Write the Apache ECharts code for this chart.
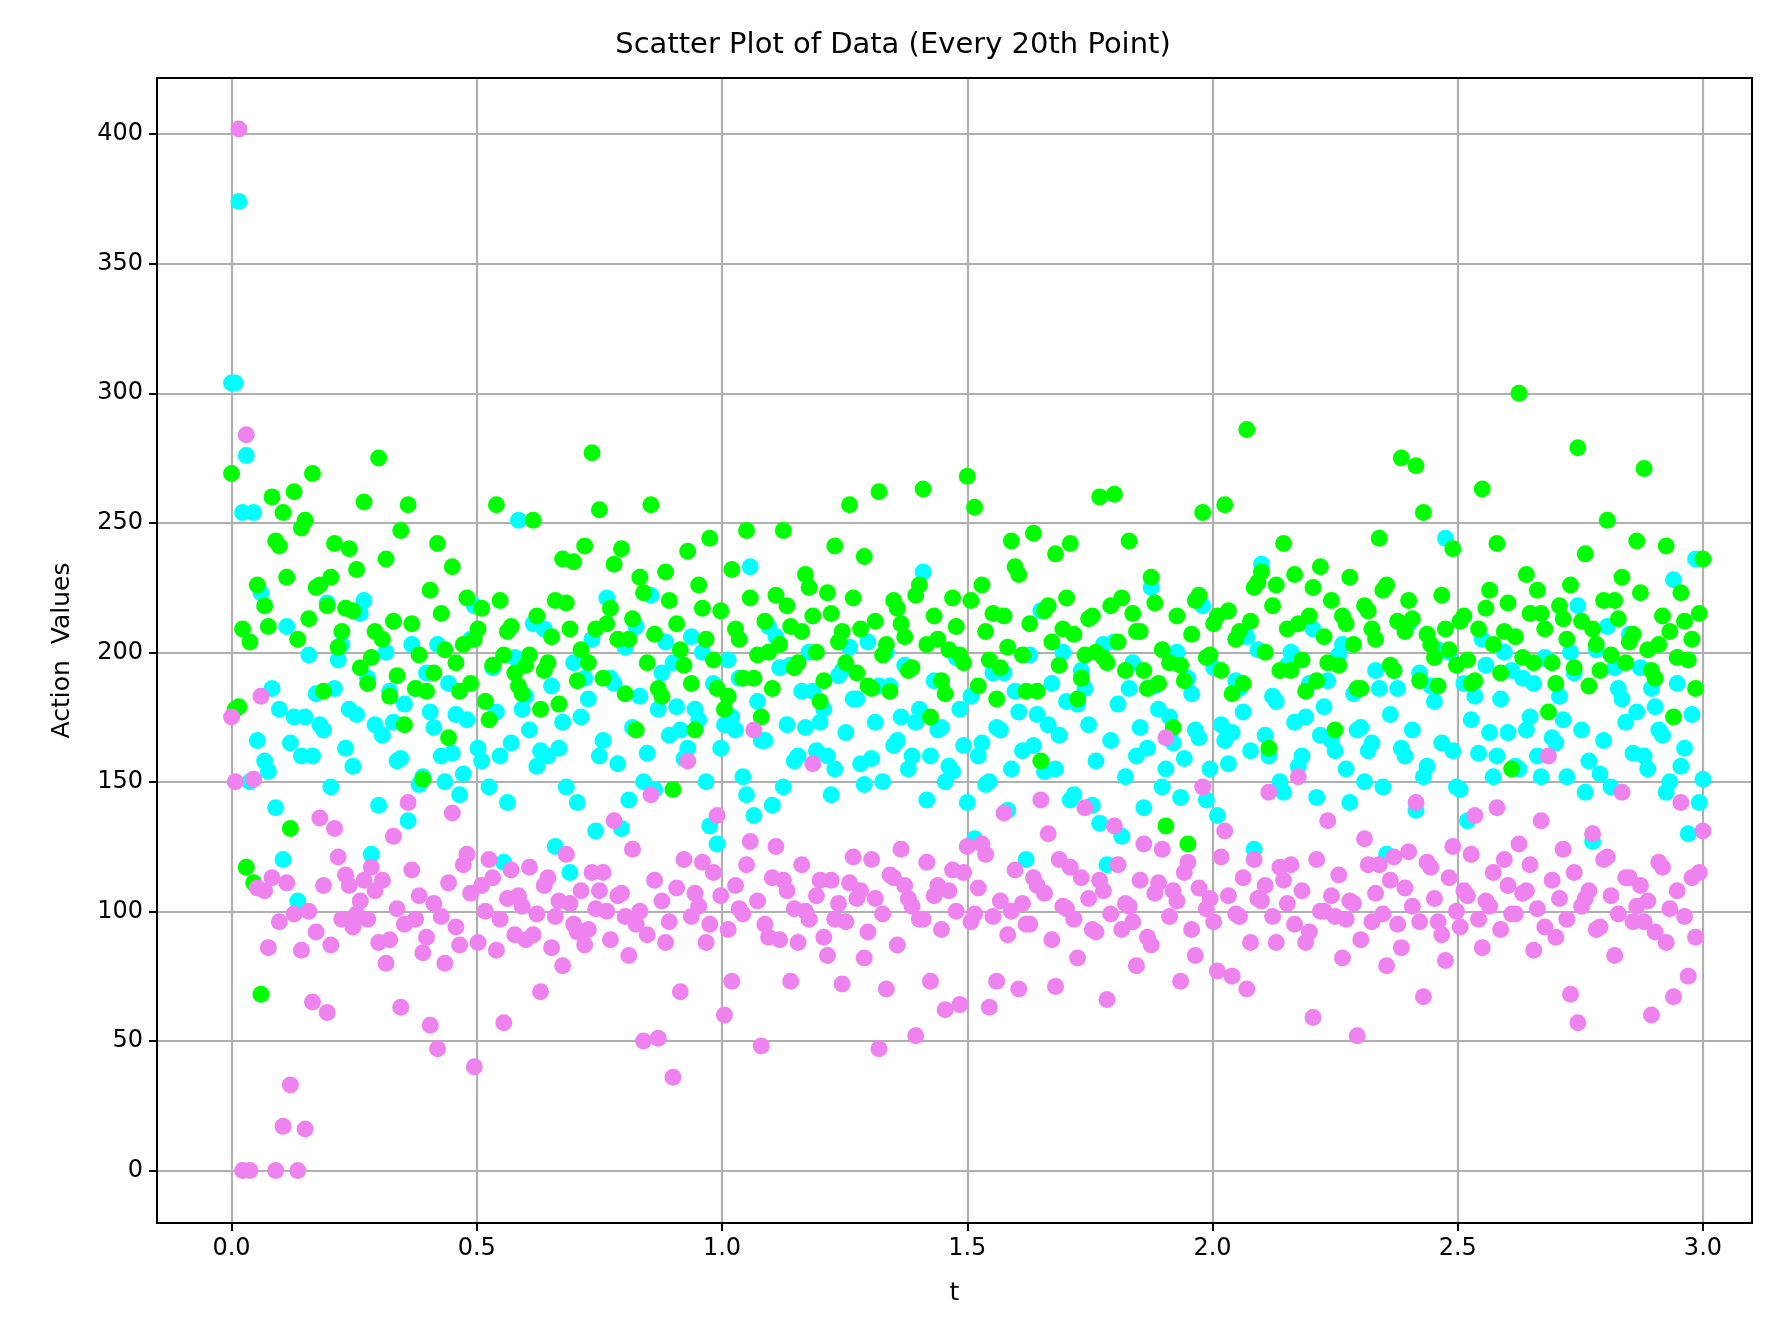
<!DOCTYPE html><html><head><meta charset="utf-8">
<script src="https://cdn.jsdelivr.net/npm/echarts@6/dist/echarts.min.js"></script>
<style>html,body{margin:0;background:#fff}#c{width:1786px;height:1324px}</style></head><body><div id="c"></div>
<script>
const tStep = 0.015;
const xTicks = [0,0.5,1,1.5,2,2.5,3];
const yTicks = [0,50,100,150,200,250,300,350,400];
const cyanVals = [304,374,276,254,223,154,140,120,165,104,175,160,172,219,186,203,178,176,220,122,
141,200,173,159,135,186,152,177,203,150,161,145,174,218,158,148,177,119,165,251,
183,211,162,160,125,173,115,142,190,205,160,221,188,132,143,210,150,222,178,204,
196,170,163,178,200,133,126,172,175,190,145,137,166,210,206,148,195,160,171,185,
173,160,155,193,202,182,149,159,187,200,164,175,155,173,231,160,170,150,154,178,
142,128,165,150,171,192,155,177,120,164,216,172,155,200,143,180,186,141,134,118,
204,129,186,160,140,225,178,155,165,144,190,170,218,155,137,166,169,186,206,124,
234,160,181,146,200,156,175,209,168,189,162,203,142,170,150,165,186,122,193,163,
211,139,152,187,201,244,162,147,135,183,205,169,160,200,193,155,170,188,152,197,
165,174,200,218,146,127,153,210,194,182,207,177,160,186,170,146,228,156,130,236,151];
const cyanVals2 = [304,254,150,166,158,186,178,210,175,160,199,184,170,148,197,163,156,215,190,172,
168,185,158,180,203,149,192,171,160,188,176,153,205,163,181,194,160,142,198,178,
170,156,209,187,163,148,196,175,182,131,166,190,157,202,171,183,161,147,192,168,
179,159,206,174,150,188,163,197,170,152,233,181,166,141,194,172,158,185,200,162,
178,145,191,169,182,157,204,173,150,187,166,195,160,178,143,189,171,156,198,164,
183,160,149,192,170,139,185,162,199,176,154,188,168,181,145,193,172,158,203,166,
180,152,196,171,163,187,148,175,200,159,184,167,143,194,172,157,189,177,162,201,
168,183,150,195,173,160,188,144,179,166,199,155,184,171,162,193,148,176,186,160,
170,192,156,181,165,200,148,188,174,161,195,152,182,169,156,190,175,160,198,167,
183,152,192,170,158,201,166,148,186,173,161,194,155,179,168,150,188,163,176,142];
const greenVals = [269,179,117,111,68,210,243,254,132,205,251,269,226,218,242,208,240,232,258,198,
275,236,212,247,257,186,151,224,242,201,233,185,221,205,217,174,257,199,210,187,
195,251,178,196,220,236,209,189,241,277,255,211,234,240,205,170,223,257,186,231,
147,201,239,170,217,244,186,178,232,205,247,190,175,200,222,247,210,196,230,214,
181,223,241,208,257,192,237,186,262,203,220,211,193,222,263,175,205,184,221,199,
268,256,226,197,182,214,243,230,185,246,158,218,238,209,242,182,199,214,260,196,
261,221,243,208,193,229,188,133,171,195,126,220,254,199,214,257,184,208,286,225,
231,163,226,242,193,211,185,225,233,196,170,214,229,186,218,209,244,226,193,275,
220,272,254,203,187,209,240,212,197,189,263,224,242,208,155,300,230,196,215,177,
188,213,226,279,238,209,193,251,220,229,204,243,271,193,203,241,175,223,197,186,236];
const greenVals2 = [178,209,204,226,218,260,241,229,262,248,213,225,185,229,202,217,216,194,188,208,
205,183,191,172,211,199,185,192,215,167,196,203,188,209,181,195,220,208,192,184,
199,214,193,206,180,219,235,201,196,209,190,217,205,184,213,229,196,207,183,220,
211,195,188,226,205,197,216,183,209,190,221,199,212,186,203,218,194,208,225,200,
189,215,204,196,221,209,187,212,199,185,217,206,194,226,203,214,189,201,210,196,
220,187,208,215,194,202,233,199,211,185,216,204,195,221,207,190,213,200,198,218,
204,193,215,208,186,219,201,196,214,189,207,222,198,211,193,216,205,188,212,227,
200,218,193,209,230,197,214,189,206,220,195,211,203,186,216,205,224,195,212,208,
213,189,207,198,222,201,195,214,188,209,217,203,192,219,206,198,215,224,209,196,
218,205,194,212,187,203,220,199,213,196,207,223,201,190,214,208,198,212,205,215];
const violetVals = [175,402,284,151,183,86,0,17,33,0,16,65,136,61,132,97,110,99,112,117,
88,80,129,63,142,97,84,56,47,80,138,87,122,40,110,120,85,57,116,106,
89,91,69,113,98,79,103,92,87,115,108,100,135,107,83,95,50,145,51,88,
36,69,158,107,119,95,137,60,73,101,118,170,48,90,125,112,73,88,100,157,
112,83,97,72,111,105,82,120,47,70,113,124,105,52,97,73,110,62,116,64,
125,99,126,63,73,138,100,70,95,113,143,130,71,102,117,82,140,93,112,66,
133,93,102,79,126,87,111,167,108,73,119,83,148,105,77,131,75,98,70,120,
104,146,88,112,118,152,88,59,100,135,98,82,104,52,128,96,118,79,121,86,
123,142,67,117,96,81,125,94,106,137,86,102,140,120,99,126,108,85,135,160,
90,124,68,57,105,130,94,121,83,146,113,102,96,60,119,88,67,142,75,90,131];
const violetVals2 = [150,0,0,109,108,113,96,111,99,85,100,92,110,87,121,114,94,104,97,108,
112,89,101,95,116,106,90,103,98,111,94,118,107,88,100,113,97,105,91,102,
117,99,110,86,104,122,95,108,93,101,115,89,106,98,124,100,91,112,104,96,
109,120,98,102,88,115,106,93,110,99,127,104,95,113,89,108,101,118,97,106,
90,112,103,96,121,108,92,105,99,114,87,110,102,97,119,106,93,108,100,115,
96,109,122,98,104,91,116,103,95,110,107,89,120,101,97,113,105,92,108,99,
118,103,96,112,90,107,124,98,104,115,93,109,101,96,121,106,99,113,88,105,
110,98,117,103,95,108,92,120,100,106,114,97,103,89,118,107,99,112,95,109,
102,96,119,105,91,113,100,108,122,97,104,115,93,110,99,107,118,101,94,112,
105,97,115,102,108,93,120,106,99,113,96,110,104,92,117,101,108,98,113,115];
const pts = (a, off) => a.map((v,i)=>[(i+off)*tStep, v]);
const ser = (name,vals,off,color)=>({name,type:'scatter',data:pts(vals,off),symbolSize:17,itemStyle:{color,opacity:1},silent:true});
const font = 'DejaVu Sans';
const chart = echarts.init(document.getElementById('c'));
chart.setOption({
  animation:false,
  textStyle:{fontFamily:font},
  title:{text:'Scatter Plot of Data (Every 20th Point)',left:'center',top:26,textStyle:{fontSize:29,fontWeight:'normal',color:'#000',fontFamily:font}},
  grid:{left:157,right:34,top:78,bottom:101},
  xAxis:{type:'value',min:-0.152,max:3.1,name:'t',nameLocation:'middle',nameGap:58,nameTextStyle:{fontSize:25,color:'#000'},
    axisLine:{onZero:false,lineStyle:{color:'#000',width:2}},
    axisTick:{customValues:xTicks,length:8,lineStyle:{color:'#000',width:2}},
    axisLabel:{customValues:xTicks,formatter:v=>v.toFixed(1),fontSize:24,color:'#000',margin:14},
    splitLine:{show:true,lineStyle:{color:'#b0b0b0',width:2.2}}},
  yAxis:{type:'value',min:-20.3,max:421.7,name:'Action  Values',nameLocation:'middle',nameGap:82,nameTextStyle:{fontSize:25,color:'#000'},
    axisLine:{onZero:false,lineStyle:{color:'#000',width:2}},
    axisTick:{customValues:yTicks,length:8,lineStyle:{color:'#000',width:2}},
    axisLabel:{customValues:yTicks,fontSize:24,color:'#000',margin:14},
    splitLine:{show:true,lineStyle:{color:'#b0b0b0',width:2.2}}},
  series:[ser('cyan',cyanVals,0,'#00ffff'),ser('cyan2',cyanVals2,0.5,'#00ffff'),
          ser('green',greenVals,0,'#00ff00'),ser('green2',greenVals2,0.5,'#00ff00'),
          ser('violet',violetVals,0,'#ee82ee'),ser('violet2',violetVals2,0.5,'#ee82ee')]
});
chart.setOption({graphic:[{type:'rect',shape:{x:157,y:78,width:1786-157-34,height:1324-78-101},style:{fill:'none',stroke:'#000',lineWidth:2},silent:true,z:100}]});
</script></body></html>
